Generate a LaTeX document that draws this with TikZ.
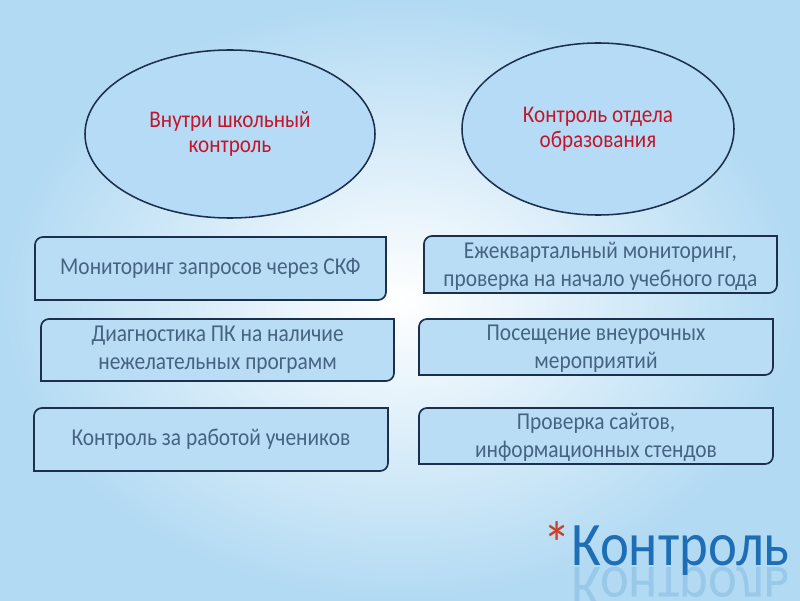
\documentclass[tikz,border=0pt]{standalone}
\usepackage{fontspec}
\setmainfont{Carlito}
\newfontfamily\slimfont[FakeStretch=0.885]{Carlito}
\usetikzlibrary{shapes.geometric}

\definecolor{bgblue}{RGB}{178,218,243}
\definecolor{ovalblue}{RGB}{182,219,246}
\definecolor{boxblue}{RGB}{184,221,245}
\definecolor{edgenavy}{RGB}{28,48,78}
\definecolor{ovaltext}{RGB}{196,22,40}
\definecolor{boxtext}{RGB}{70,100,130}
\definecolor{titleblue}{RGB}{30,110,182}
\definecolor{starred}{RGB}{205,62,42}

\tikzset{
  oval/.style={ellipse, draw=edgenavy, line width=1.1pt, fill=ovalblue,
    text=ovaltext, align=center, font=\slimfont\fontsize{17}{18}\selectfont},
  boxline/.style={draw=edgenavy, line width=1.2pt, fill=boxblue},
  boxlabel/.style={text=boxtext, align=center, font=\slimfont\fontsize{17.2}{20}\selectfont}
}

\begin{document}
\begin{tikzpicture}
  \useasboundingbox (0,0) rectangle (20,15);

  % background: light blue with a pale centre
  \fill[bgblue] (0,0) rectangle (20,15);
  \shade[inner color=white, outer color=bgblue] (0,0) rectangle (20,15);

  % the two kinds of control
  \node[oval, minimum width=7.25cm, minimum height=4.2cm] (school) at (5.75,11.65)
    {Внутри школьный\\контроль};
  \node[oval, minimum width=6.8cm, minimum height=4.3cm] (dept) at (14.95,11.775)
    {Контроль отдела\\образования};

  % left column: top-left and bottom-right corners rounded
  \draw[boxline] (0.875,7.5) -- (0.875,8.875) arc[start angle=180, end angle=90, radius=0.2]
    -- (9.65,9.075) -- (9.65,7.7) arc[start angle=0, end angle=-90, radius=0.2] -- cycle;
  \node[boxlabel] (skf) at (5.26,8.29) {Мониторинг запросов через СКФ};

  \draw[boxline] (1.025,5.475) -- (1.025,6.825) arc[start angle=180, end angle=90, radius=0.2]
    -- (9.85,7.025) -- (9.85,5.675) arc[start angle=0, end angle=-90, radius=0.2] -- cycle;
  \node[boxlabel] (pc) at (5.44,6.25) {Диагностика ПК на наличие\\нежелательных программ};

  \draw[boxline] (0.85,3.225) -- (0.85,4.6) arc[start angle=180, end angle=90, radius=0.2]
    -- (9.7,4.8) -- (9.7,3.425) arc[start angle=0, end angle=-90, radius=0.2] -- cycle;
  \node[boxlabel] (pupils) at (5.275,4.01) {Контроль за работой учеников};

  % right column
  \draw[boxline] (10.6,7.675) -- (10.6,8.9) arc[start angle=180, end angle=90, radius=0.2]
    -- (19.425,9.1) -- (19.425,7.875) arc[start angle=0, end angle=-90, radius=0.2] -- cycle;
  \node[boxlabel] (quarter) at (15.01,8.34) {Ежеквартальный мониторинг,\\проверка на начало учебного года};

  \draw[boxline] (10.475,5.625) -- (10.475,6.825) arc[start angle=180, end angle=90, radius=0.2]
    -- (19.325,7.025) -- (19.325,5.825) arc[start angle=0, end angle=-90, radius=0.2] -- cycle;
  \node[boxlabel] (events) at (14.9,6.28) {Посещение внеурочных\\мероприятий};

  \draw[boxline] (10.475,3.4) -- (10.475,4.6) arc[start angle=180, end angle=90, radius=0.2]
    -- (19.325,4.8) -- (19.325,3.6) arc[start angle=0, end angle=-90, radius=0.2] -- cycle;
  \node[boxlabel] (sites) at (14.9,4.06) {Проверка сайтов,\\информационных стендов};

  % title with its faint reflection
  \node[anchor=base east, inner sep=0pt, text=titleblue, font=\slimfont\fontsize{44}{44}\selectfont]
    (title) at (19.75,0.875) {\textcolor{starred}{*}Контроль};
  \node[anchor=base east, inner sep=0pt, text=titleblue, opacity=0.16, yscale=-1,
    font=\slimfont\fontsize{44}{44}\selectfont] (mirror) at ([yshift=-2pt]title.base east) {Контроль};
\end{tikzpicture}
\end{document}
